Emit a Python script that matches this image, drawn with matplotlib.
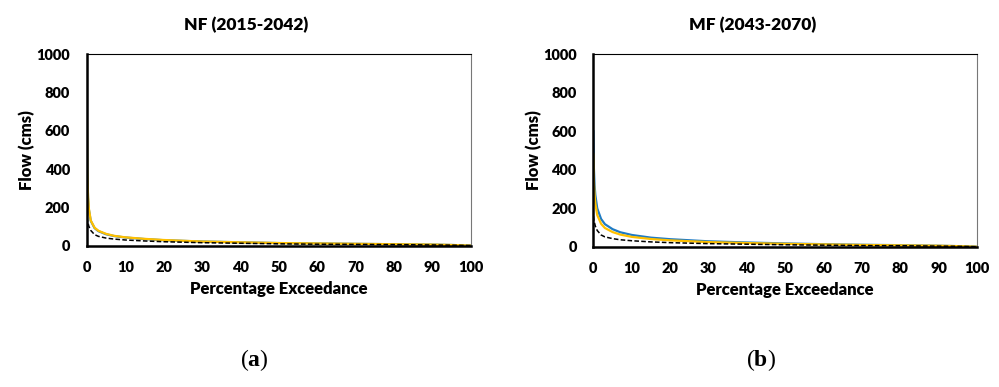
import matplotlib.pyplot as plt

plt.rcParams['font.family'] = ['Lato', 'DejaVu Sans']
plt.rcParams['mathtext.fontset'] = 'custom'
plt.rcParams['mathtext.rm'] = 'Liberation Serif'
plt.rcParams['mathtext.bf'] = 'Liberation Serif:bold'

# exceedance points (%)
pct = [0, 0.1, 0.3, 0.5, 1, 2, 3, 5, 7, 10, 15, 20, 30, 40, 50, 60, 70, 80, 90, 95, 100]

# NF (2015-2042)
nf_blue = [640, 380, 250, 190, 130, 92, 76, 60, 51, 43, 35, 29, 22, 18, 14, 12, 10, 8, 6, 4, 1]
nf_gold = [660, 390, 255, 195, 132, 94, 78, 62, 52, 44, 36, 30, 22, 18, 14, 12, 10, 8, 6, 4, 1]
nf_hist = [150, 135, 118, 102, 80, 58, 49, 40, 35, 30, 25, 21, 16, 13, 10, 8, 7, 6, 4, 3, 1]

# MF (2043-2070)
mf_blue = [600, 420, 320, 270, 200, 145, 118, 92, 76, 62, 48, 40, 29, 23, 18, 14, 11, 9, 6, 4, 1]
mf_gold = [480, 350, 270, 225, 165, 120, 98, 77, 64, 52, 41, 34, 25, 20, 16, 13, 10, 8, 6, 4, 1]
mf_hist = [160, 142, 124, 108, 85, 62, 52, 43, 37, 32, 26, 22, 17, 14, 11, 9, 7, 6, 4, 3, 1]

panels = [
    ("NF (2015-2042)", nf_blue, nf_gold, nf_hist, "a"),
    ("MF (2043-2070)", mf_blue, mf_gold, mf_hist, "b"),
]
axes_pos = [[0.087, 0.365, 0.384, 0.495], [0.594, 0.362, 0.384, 0.498]]
label_x = [0.255, 0.762]

fig = plt.figure(figsize=(9.99, 3.87), dpi=100)

for (title, blue, gold, hist, tag), pos, lx in zip(panels, axes_pos, label_x):
    ax = fig.add_axes(pos)
    ax.plot(pct, blue, color='#1f7bc4', lw=1.6)
    ax.plot(pct, gold, color='#ffc000', lw=1.6)
    ax.plot(pct, hist, color='black', lw=1.1, ls=(0, (3, 1.5)))
    ax.set_xlim(0, 100)
    ax.set_ylim(0, 1000)
    ax.set_xticks(range(0, 101, 10))
    ax.set_yticks(range(0, 1001, 200))
    ax.tick_params(length=0, labelsize=10.5)
    ax.tick_params(axis='x', pad=11)
    ax.tick_params(axis='y', pad=12)
    for t in ax.get_xticklabels() + ax.get_yticklabels():
        t.set_fontweight('heavy')
    ax.spines['left'].set_linewidth(1.8)
    ax.spines['bottom'].set_linewidth(1.8)
    ax.spines['top'].set_linewidth(0.8)
    ax.spines['right'].set_linewidth(0.8)
    ax.spines['right'].set_color('#777777')
    ax.set_title(title, fontsize=12.5, fontweight='heavy', pad=17, x=0.415)
    ax.set_xlabel("Percentage Exceedance", fontsize=12, fontweight='heavy', labelpad=5)
    ax.set_ylabel("Flow (cms)", fontsize=12, fontweight='heavy', labelpad=1)
    fig.text(lx, 0.07, r'$(\mathbf{' + tag + r'})$', ha='center', va='center', fontsize=17)

fig.savefig("out.png", dpi=100)
